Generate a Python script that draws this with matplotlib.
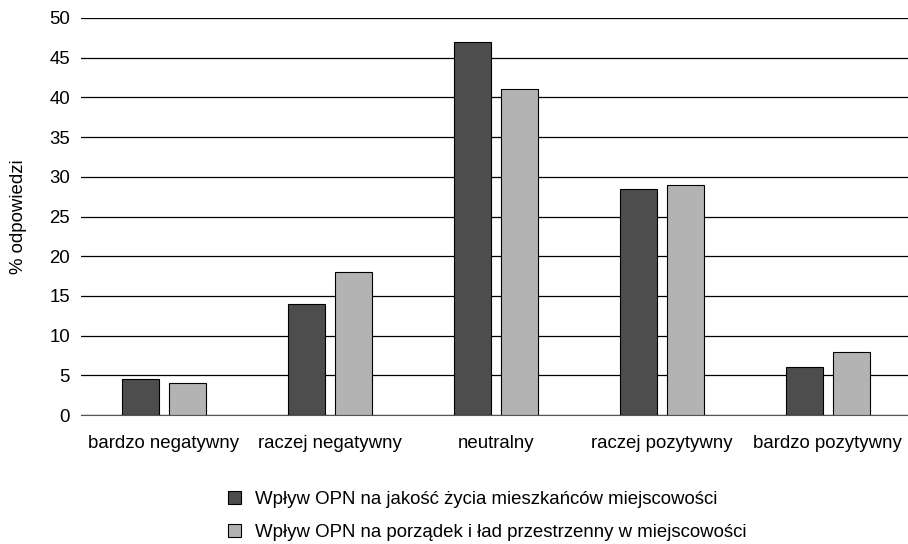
import numpy as np
import matplotlib.pyplot as plt
from matplotlib.patches import Patch

plt.rcParams['font.family'] = ['Liberation Sans', 'DejaVu Sans']
plt.rcParams['font.size'] = 13.4

categories = ['bardzo negatywny', 'raczej negatywny', 'neutralny',
              'raczej pozytywny', 'bardzo pozytywny']
quality = [4.5, 14, 47, 28.5, 6]
order = [4, 18, 41, 29, 8]
labels = ['Wpływ OPN na jakość życia mieszkańców miejscowości',
          'Wpływ OPN na porządek i ład przestrzenny w miejscowości']
colors = ['#4d4d4d', '#b3b3b3']

fig = plt.figure(figsize=(9.08, 5.44), dpi=100)
ax = fig.add_axes([0.0892, 0.237, 0.914, 0.73])

x = np.arange(len(categories))
w = 0.224
off = 0.142
ax.bar(x - off, quality, w, color=colors[0], edgecolor='black', linewidth=0.8, zorder=3)
ax.bar(x + off, order, w, color=colors[1], edgecolor='black', linewidth=0.8, zorder=3)

ax.set_xlim(-0.5, 4.5)
ax.set_ylim(0, 50)
ax.set_yticks(range(0, 51, 5))
ax.set_xticks(x)
ax.set_xticklabels(categories)
ax.yaxis.grid(True, color='black', linewidth=0.9, zorder=0)
ax.set_axisbelow(True)
for s in ['top', 'right', 'left']:
    ax.spines[s].set_visible(False)
ax.spines['bottom'].set_color('#555555')
ax.tick_params(length=0, pad=8)
ax.tick_params(axis='x', pad=14)
ax.set_ylabel('% odpowiedzi', labelpad=16)

handles = [Patch(facecolor=c, edgecolor='black', linewidth=0.8) for c in colors]
fig.legend(handles, labels, loc='upper left', bbox_to_anchor=(0.243, 0.111),
           frameon=False, handlelength=0.7, handleheight=0.7,
           handletextpad=0.75, labelspacing=0.88, borderaxespad=0)

fig.savefig('out.png', dpi=100)
